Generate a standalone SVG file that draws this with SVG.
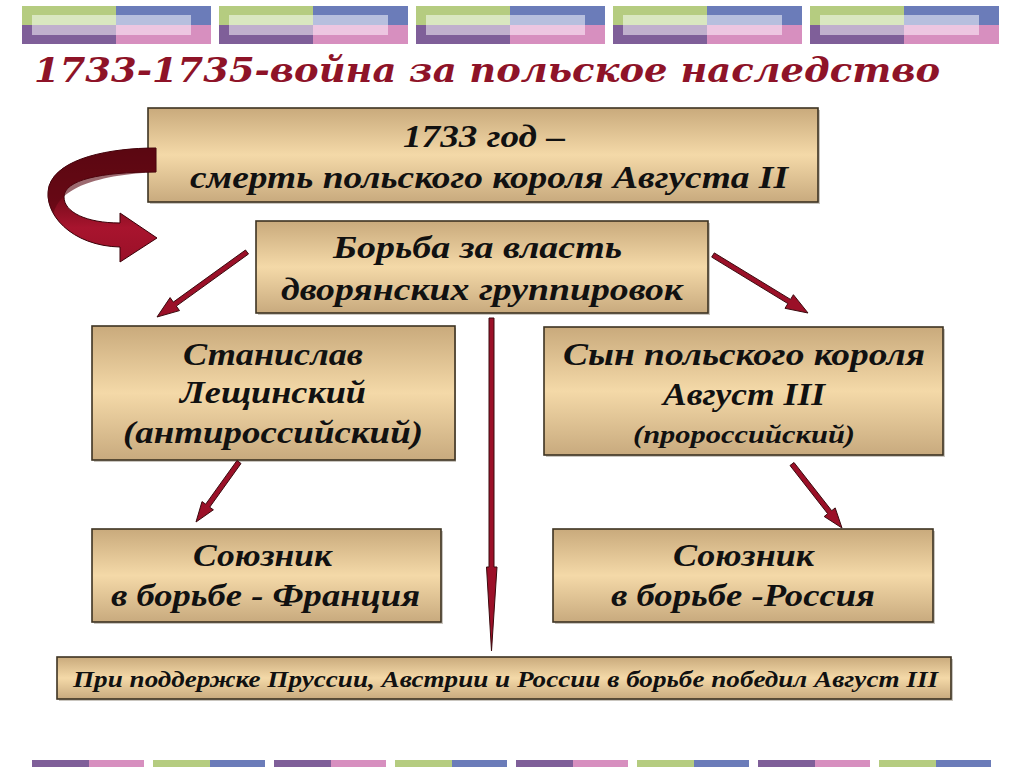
<svg xmlns="http://www.w3.org/2000/svg" width="1024" height="767" viewBox="0 0 1024 767">
<style>
.box{fill:url(#tan);stroke:#3d3322;stroke-width:1.6}
.sh{fill:#8a8070;opacity:.45}
.t{font-family:"Liberation Serif","DejaVu Serif",serif;font-weight:bold;font-style:italic;font-size:32px;fill:#111}
.title{font-family:"DejaVu Serif","Liberation Serif",serif;font-weight:bold;font-style:italic;font-size:34px;fill:#8e1328}
.arr{fill:#9b1028;stroke:#3a0a0e;stroke-width:1;stroke-linejoin:miter}
</style>
<defs>
<linearGradient id="tan" x1="0" y1="0" x2="0" y2="1">
<stop offset="0" stop-color="#c9aa7c"/>
<stop offset="0.5" stop-color="#f4d9a8"/>
<stop offset="1" stop-color="#c8aa7e"/>
</linearGradient>
<linearGradient id="rib" x1="0" y1="0" x2="0" y2="1">
<stop offset="0" stop-color="#5c0812"/>
<stop offset="0.45" stop-color="#7a0c1c"/>
<stop offset="0.7" stop-color="#a8142e"/>
<stop offset="1" stop-color="#9a1028"/>
</linearGradient>
<g id="tileTop">
<rect x="0" y="0" width="94" height="19" fill="#b5cc80"/>
<rect x="94" y="0" width="95" height="19" fill="#6b7cb9"/>
<rect x="0" y="19" width="94" height="19" fill="#7f5f99"/>
<rect x="94" y="19" width="95" height="19" fill="#d78fbf"/>
<rect x="10" y="9" width="84" height="10" fill="#d9e7c0"/>
<rect x="94" y="9" width="75" height="10" fill="#b7bfde"/>
<rect x="10" y="19" width="84" height="10" fill="#c0b0cd"/>
<rect x="94" y="19" width="75" height="10" fill="#edc6e1"/>
</g>
<g id="bA">
<rect x="0" y="0" width="57" height="7" fill="#7f5f99"/>
<rect x="57" y="0" width="55" height="7" fill="#d78fbf"/>
</g>
<g id="bB">
<rect x="0" y="0" width="57" height="7" fill="#b5cc80"/>
<rect x="57" y="0" width="55" height="7" fill="#6b7cb9"/>
</g>
</defs>
<rect width="1024" height="767" fill="#ffffff"/>
<g id="header-strip">
<use href="#tileTop" x="22" y="6"/>
<use href="#tileTop" x="219" y="6"/>
<use href="#tileTop" x="416" y="6"/>
<use href="#tileTop" x="613" y="6"/>
<use href="#tileTop" x="810" y="6"/>
</g>
<g id="footer-strip">
<use href="#bA" x="32" y="760"/>
<use href="#bB" x="153" y="760"/>
<use href="#bA" x="274" y="760"/>
<use href="#bB" x="395" y="760"/>
<use href="#bA" x="516" y="760"/>
<use href="#bB" x="637" y="760"/>
<use href="#bA" x="758" y="760"/>
<use href="#bB" x="879" y="760"/>
</g>
<text class="title" x="34" y="82" textLength="906" lengthAdjust="spacingAndGlyphs">1733-1735-война за польское наследство</text>

<g id="n1">
<rect class="sh" x="150" y="110" width="670" height="94"/>
<rect class="box" x="148" y="108" width="670" height="94"/>
<text class="t" x="403" y="147" textLength="162" lengthAdjust="spacingAndGlyphs">1733 год –</text>
<text class="t" x="190" y="188" textLength="598" lengthAdjust="spacingAndGlyphs">смерть польского короля Августа II</text>
</g>
<g id="n2">
<rect class="sh" x="258" y="223" width="452" height="92"/>
<rect class="box" x="256" y="221" width="452" height="92"/>
<text class="t" x="333" y="258" textLength="289" lengthAdjust="spacingAndGlyphs">Борьба за власть</text>
<text class="t" x="281" y="300" textLength="402" lengthAdjust="spacingAndGlyphs">дворянских группировок</text>
</g>
<g id="n3">
<rect class="sh" x="94" y="328" width="362" height="134"/>
<rect class="box" x="92" y="326" width="363" height="134"/>
<text class="t" x="183" y="365" textLength="180" lengthAdjust="spacingAndGlyphs">Станислав</text>
<text class="t" x="180" y="403" textLength="186" lengthAdjust="spacingAndGlyphs">Лещинский</text>
<text class="t" x="123" y="443" textLength="300" lengthAdjust="spacingAndGlyphs">(антироссийский)</text>
</g>
<g id="n4">
<rect class="sh" x="546" y="329" width="399" height="128"/>
<rect class="box" x="544" y="327" width="399" height="128"/>
<text class="t" x="563" y="365" textLength="362" lengthAdjust="spacingAndGlyphs">Сын польского короля</text>
<text class="t" x="663" y="405" textLength="162" lengthAdjust="spacingAndGlyphs">Август III</text>
<text class="t" x="633" y="443" textLength="222" lengthAdjust="spacingAndGlyphs" style="font-size:26px">(пророссийский)</text>
</g>
<g id="n5">
<rect class="sh" x="94" y="531" width="349" height="93"/>
<rect class="box" x="92" y="529" width="349" height="93"/>
<text class="t" x="193" y="566" textLength="139" lengthAdjust="spacingAndGlyphs">Союзник</text>
<text class="t" x="111" y="606" textLength="309" lengthAdjust="spacingAndGlyphs">в борьбе - Франция</text>
</g>
<g id="n6">
<rect class="sh" x="555" y="531" width="380" height="93"/>
<rect class="box" x="553" y="529" width="380" height="93"/>
<text class="t" x="673" y="566" textLength="141" lengthAdjust="spacingAndGlyphs">Союзник</text>
<text class="t" x="611" y="606" textLength="264" lengthAdjust="spacingAndGlyphs">в борьбе -Россия</text>
</g>
<g id="n7">
<rect class="sh" x="59" y="659" width="894" height="42"/>
<rect class="box" x="57" y="657" width="894" height="42"/>
<text class="t" x="73" y="687" textLength="865" lengthAdjust="spacingAndGlyphs" style="font-size:24px">При поддержке Пруссии, Австрии и России в борьбе победил Август III</text>
</g>

<g id="connectors">
<path fill="url(#rib)" stroke="#3a0008" stroke-width="1" d="M156,148 C110,148 58,158 49,186 C42,214 72,246 120,247 L120,262 L157,238 L120,213 L120,223 C86,223 64,212 64,197 C64,180 100,172 156,172 Z"/>
<path fill="#5a0610" opacity="0.6" d="M156,148 C110,148 58,158 49,186 C46,196 48,205 54,213 C58,195 80,176 156,172 Z"/>
<polygon class="arr" points="245.5,250 173.3,302.1 170.1,297.6 157,317 179.5,310.6 176.3,306.1 248.5,254"/>
<polygon class="arr" points="714.3,252.9 790.5,299.4 793.4,294.7 808,313 785,308.3 787.9,303.6 711.7,257.1"/>
<polygon class="arr" points="489,318 494,318 494,567 497,567 491.5,651 486.5,567 489,567"/>
<polygon class="arr" points="237,460.5 205.7,504.2 202,501.6 196,522 213.4,509.8 209.7,507.2 241,463.5"/>
<polygon class="arr" points="794,462.5 831.7,510.7 835.2,507.9 842,528 824.2,516.5 827.7,513.7 790,465.5"/>
</g>
</svg>
